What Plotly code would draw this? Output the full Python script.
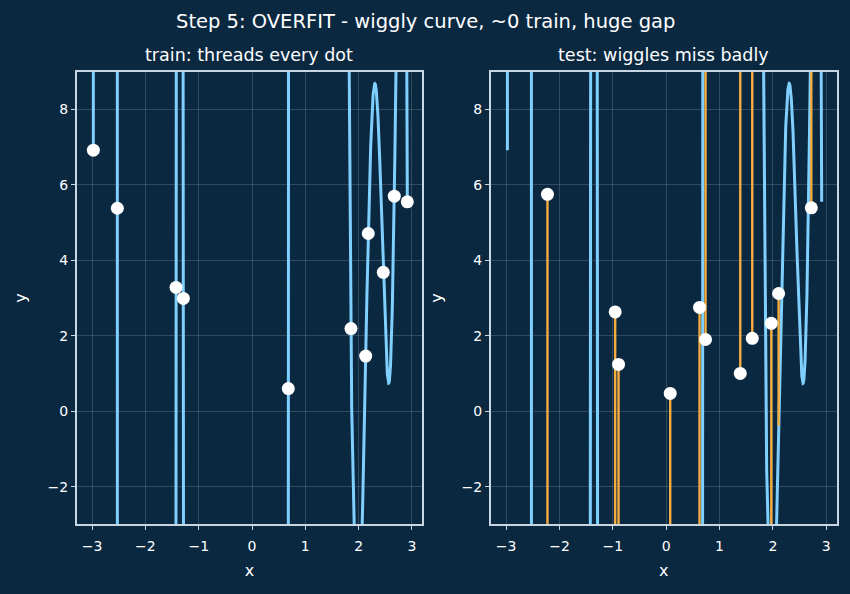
import numpy as np
import plotly.graph_objects as go

# ---- data ----
train_x = [-2.977, -2.527, -1.426, -1.288, 0.681, 1.857, 2.133, 2.182, 2.463, 2.670, 2.914]
train_y = [6.92, 5.38, 3.28, 2.99, 0.60, 2.19, 1.46, 4.71, 3.68, 5.70, 5.55]

test_x = [-2.226, -0.957, -0.894, 0.075, 0.625, 0.737, 1.388, 1.613, 1.970, 2.107, 2.720]
test_y = [5.75, 2.63, 1.24, 0.47, 2.75, 1.90, 1.00, 1.93, 2.33, 3.12, 5.39]

x_ticks = [-3, -2, -1, 0, 1, 2, 3]
y_ticks = [-2, 0, 2, 4, 6, 8]

# ---- overfit model: polynomial threading every training dot ----
model = np.polynomial.Polynomial.fit(train_x, train_y, deg=len(train_x) - 1)
grid_x = np.linspace(min(train_x), max(train_x), 6000)
grid_y = model(grid_x)

res_x, res_y = [], []
for tx, ty in zip(test_x, test_y):
    res_x += [tx, tx, None]
    res_y += [ty, float(model(tx)), None]

BG = "#0b2841"
BLUE = "#7fd0ff"
ORANGE = "#f6ad40"
WHITE = "#ffffff"
FONT = "DejaVu Sans"

fig = go.Figure()

# left panel
fig.add_trace(go.Scatter(x=grid_x, y=grid_y, mode="lines",
                         line=dict(color=BLUE, width=3), xaxis="x", yaxis="y",
                         showlegend=False, hoverinfo="skip"))
fig.add_trace(go.Scatter(x=train_x, y=train_y, mode="markers",
                         marker=dict(color=WHITE, size=13), xaxis="x", yaxis="y",
                         showlegend=False))

# right panel
fig.add_trace(go.Scatter(x=grid_x, y=grid_y, mode="lines",
                         line=dict(color=BLUE, width=3), xaxis="x2", yaxis="y2",
                         showlegend=False, hoverinfo="skip"))
fig.add_trace(go.Scatter(x=res_x, y=res_y, mode="lines",
                         line=dict(color=ORANGE, width=2.4), xaxis="x2", yaxis="y2",
                         showlegend=False, hoverinfo="skip"))
fig.add_trace(go.Scatter(x=test_x, y=test_y, mode="markers",
                         marker=dict(color=WHITE, size=13), xaxis="x2", yaxis="y2",
                         showlegend=False))

axis_common = dict(
    showgrid=True, gridcolor="rgba(255,255,255,0.16)", gridwidth=1,
    zeroline=False, showline=True, linecolor="#c9d6e3", linewidth=1.5, mirror=True,
    ticks="outside", ticklen=4, tickwidth=1.2, tickcolor="#c9d6e3",
    tickfont=dict(family=FONT, size=14, color=WHITE),
)

xr = [-3.29, 3.195]
yr = [-3, 9]

fig.update_layout(
    width=850, height=594,
    paper_bgcolor=BG, plot_bgcolor=BG,
    margin=dict(l=0, r=0, t=0, b=0),
    font=dict(family=FONT, color=WHITE),
    xaxis=dict(domain=[0.0902, 0.4968], range=xr, tickvals=x_ticks, anchor="y", ticklabelstandoff=4,
               title=dict(text="x", font=dict(size=16, color=WHITE), standoff=12), **axis_common),
    yaxis=dict(domain=[0.1173, 0.8793], range=yr, tickvals=y_ticks, anchor="x",
               title=dict(text="y", font=dict(size=16, color=WHITE), standoff=17), **axis_common),
    xaxis2=dict(domain=[0.5773, 0.9843], range=xr, tickvals=x_ticks, anchor="y2", ticklabelstandoff=4,
                title=dict(text="x", font=dict(size=16, color=WHITE), standoff=12), **axis_common),
    yaxis2=dict(domain=[0.1173, 0.8793], range=yr, tickvals=y_ticks, anchor="x2",
                title=dict(text="y", font=dict(size=16, color=WHITE), standoff=15), **axis_common),
    annotations=[
        dict(text="Step 5: OVERFIT - wiggly curve, ~0 train, huge gap", x=0.5, y=1 - 22 / 594,
             xref="paper", yref="paper", showarrow=False, xanchor="center", yanchor="middle",
             font=dict(family=FONT, size=19.5, color=WHITE)),
        dict(text="train: threads every dot", x=(0.0902 + 0.4968) / 2, y=1 - 55 / 594,
             xref="paper", yref="paper", showarrow=False, xanchor="center", yanchor="middle",
             font=dict(family=FONT, size=17.5, color=WHITE)),
        dict(text="test: wiggles miss badly", x=(0.5773 + 0.9843) / 2, y=1 - 55 / 594,
             xref="paper", yref="paper", showarrow=False, xanchor="center", yanchor="middle",
             font=dict(family=FONT, size=17.5, color=WHITE)),
    ],
)

fig.write_html("out.html")
